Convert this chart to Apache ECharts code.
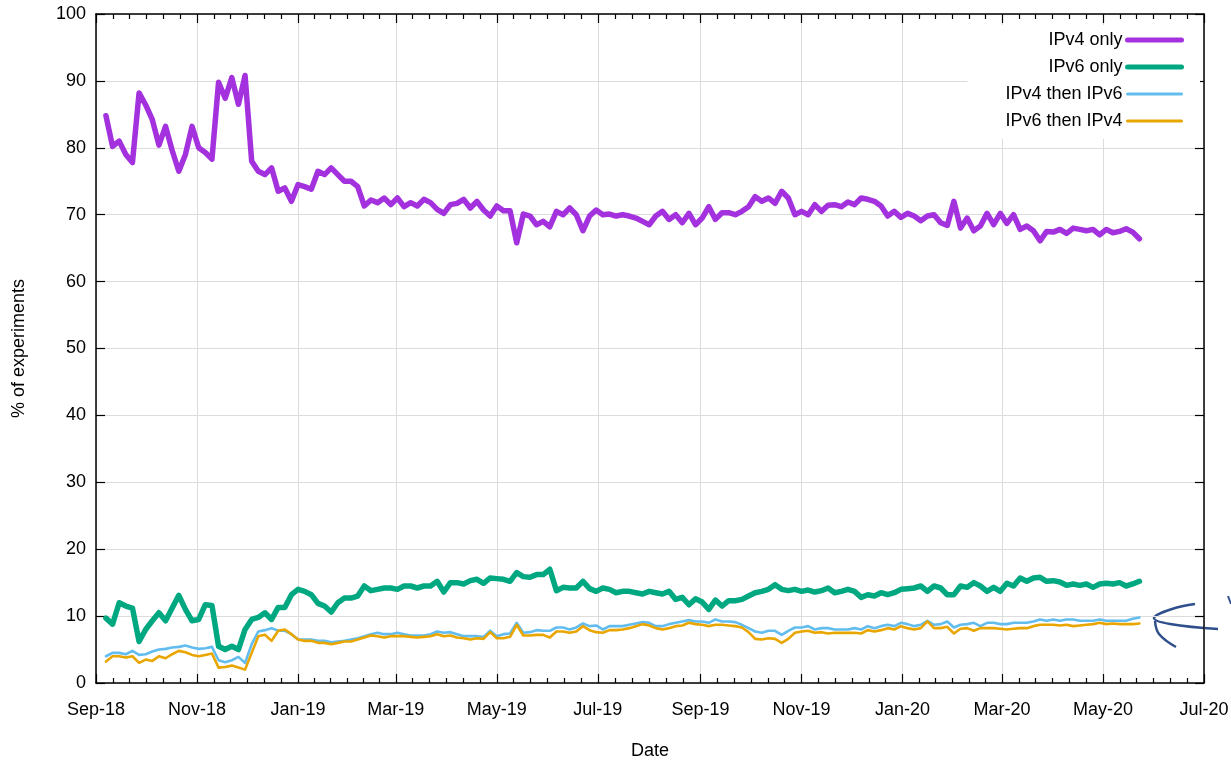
<!DOCTYPE html>
<html>
<head>
<meta charset="utf-8">
<script src="https://cdn.jsdelivr.net/npm/echarts@6/dist/echarts.min.js"></script>
<style>
  html, body { margin: 0; padding: 0; background: #fff; }
  #chart { width: 1231px; height: 760px; }
</style>
</head>
<body>
<div id="chart"></div>
<script>
// daily experiment shares, sampled every 4 days from 2018-09-07
const firstDate = '2018-09-07'
const stepDays = 4

const ipv4Only = [
  84.8, 80.2, 81, 79, 77.8, 88.2, 86.4, 84.2, 80.4, 83.2,
  79.6, 76.5, 79, 83.2, 80, 79.3, 78.3, 89.8, 87.4, 90.5,
  86.5, 90.8, 78, 76.5, 76, 77, 73.5, 74, 72, 74.5,
  74.2, 73.8, 76.5, 76, 77, 76, 75, 75, 74.2, 71.3,
  72.2, 71.8, 72.5, 71.5, 72.5, 71.2, 71.8, 71.3, 72.3, 71.8,
  70.8, 70.2, 71.5, 71.7, 72.3, 71, 72, 70.7, 69.8, 71.3,
  70.6, 70.6, 65.8, 70.1, 69.8, 68.5, 69, 68.2, 70.5, 70,
  71, 70, 67.6, 69.8, 70.7, 70, 70.1, 69.8, 70, 69.8,
  69.5, 69, 68.5, 69.8, 70.5, 69.3, 70, 68.8, 70.2, 68.5,
  69.5, 71.2, 69.3, 70.3, 70.3, 70, 70.5, 71.2, 72.7, 72,
  72.5, 71.7, 73.5, 72.5, 70, 70.5, 70, 71.5, 70.5, 71.4,
  71.5, 71.2, 71.9, 71.5, 72.5, 72.3, 72, 71.3, 69.8, 70.5,
  69.6, 70.2, 69.8, 69.1, 69.8, 70, 68.8, 68.4, 72, 68,
  69.5, 67.6, 68.3, 70.2, 68.5, 70.2, 68.7, 70, 67.8, 68.3,
  67.6, 66.1, 67.5, 67.4, 67.8, 67.2, 68, 67.8, 67.6, 67.8,
  67, 67.8, 67.3, 67.5, 67.9, 67.4, 66.4
]

const ipv6Only = [
  9.7, 8.8, 12, 11.5, 11.2, 6.2, 8, 9.3, 10.5, 9.3,
  11.2, 13.1, 11, 9.3, 9.5, 11.7, 11.6, 5.5, 5, 5.5,
  5, 8, 9.5, 9.8, 10.5, 9.5, 11.3, 11.3, 13.2, 14,
  13.7, 13.2, 11.9, 11.5, 10.6, 12, 12.7, 12.7, 13, 14.5,
  13.8, 14, 14.2, 14.2, 14, 14.5, 14.5, 14.2, 14.5, 14.5,
  15.2, 13.6, 15, 15, 14.8, 15.3, 15.5, 14.9, 15.7, 15.6,
  15.5, 15.2, 16.5, 15.9, 15.8, 16.2, 16.2, 17, 13.8, 14.3,
  14.2, 14.2, 15.2, 14.1, 13.7, 14.2, 14, 13.5, 13.7, 13.7,
  13.5, 13.3, 13.7, 13.5, 13.3, 13.7, 12.5, 12.8, 11.7, 12.6,
  12.1, 11, 12.4, 11.5, 12.3, 12.3, 12.5, 13, 13.5, 13.7,
  14, 14.7, 14, 13.8, 14, 13.7, 13.9, 13.6, 13.8, 14.2,
  13.5, 13.7, 14, 13.7, 12.8, 13.2, 13, 13.5, 13.2, 13.5,
  14, 14.1, 14.2, 14.5, 13.7, 14.5, 14.2, 13.2, 13.2, 14.5,
  14.3, 15, 14.5, 13.7, 14.3, 13.7, 14.9, 14.5, 15.7, 15.2,
  15.7, 15.8, 15.2, 15.3, 15.1, 14.6, 14.8, 14.6, 14.8, 14.3,
  14.8, 14.9, 14.8, 15, 14.5, 14.8, 15.2
]

const ipv4ThenIpv6 = [
  4, 4.5, 4.5, 4.3, 4.8, 4.2, 4.3, 4.7, 5, 5.1,
  5.3, 5.4, 5.6, 5.3, 5.1, 5.2, 5.4, 3.4, 3.1, 3.4,
  3.9, 3, 5.8, 7.7, 7.9, 8.2, 7.8, 7.8, 7.3, 6.5,
  6.5, 6.5, 6.3, 6.3, 6.1, 6.2, 6.3, 6.5, 6.7, 7,
  7.3, 7.5, 7.3, 7.3, 7.5, 7.3, 7.1, 7.1, 7.1, 7.3,
  7.7, 7.5, 7.6, 7.3, 7, 7, 7, 6.9, 7.8, 7,
  7.3, 7.4, 9, 7.5, 7.6, 7.9, 7.8, 7.8, 8.3, 8.3,
  8, 8.3, 8.9, 8.5, 8.6, 8, 8.5, 8.5, 8.5, 8.7,
  8.9, 9.1, 9, 8.5, 8.5, 8.8, 9, 9.2, 9.4, 9.2,
  9.2, 9, 9.5, 9.2, 9.2, 9.1, 8.7, 8.2, 7.7, 7.5,
  7.8, 7.8, 7.2, 7.8, 8.3, 8.3, 8.5, 8, 8.2, 8.2,
  8, 8, 8, 8.2, 8, 8.5, 8.2, 8.5, 8.7, 8.5,
  9, 8.8, 8.5, 8.7, 9.3, 8.7, 8.8, 9.2, 8.3, 8.7,
  8.8, 9, 8.5, 9, 9, 8.8, 8.8, 9, 9, 9,
  9.2, 9.5, 9.3, 9.5, 9.3, 9.5, 9.5, 9.3, 9.3, 9.3,
  9.5, 9.3, 9.3, 9.3, 9.3, 9.6, 9.8
]

const ipv6ThenIpv4 = [
  3.2, 4, 4, 3.8, 4, 3, 3.5, 3.3, 4, 3.7,
  4.3, 4.8, 4.6, 4.2, 4, 4.2, 4.4, 2.3, 2.4, 2.6,
  2.3, 2, 4.5, 7, 7.2, 6.3, 7.8, 8, 7.3, 6.5,
  6.3, 6.3, 6, 6, 5.8, 6, 6.2, 6.2, 6.5, 6.8,
  7.1, 7, 6.8, 7, 7, 7, 6.9, 6.8, 6.9, 7,
  7.3, 7, 7.1, 6.8, 6.7, 6.5, 6.7, 6.6, 7.6, 6.7,
  6.7, 6.9, 8.7, 7.1, 7.1, 7.2, 7.2, 6.8, 7.7, 7.7,
  7.5, 7.7, 8.5, 7.9, 7.6, 7.5, 7.9, 7.9, 8, 8.2,
  8.5, 8.8, 8.6, 8.2, 8, 8.2, 8.5, 8.6, 9, 8.8,
  8.7, 8.5, 8.7, 8.7, 8.6, 8.5, 8.3, 7.6, 6.6, 6.5,
  6.7, 6.6, 6, 6.6, 7.5, 7.7, 7.8, 7.5, 7.6, 7.4,
  7.5, 7.5, 7.5, 7.5, 7.4, 7.9, 7.7, 7.9, 8.2, 8,
  8.5, 8.2, 8, 8.2, 9.2, 8.2, 8.2, 8.4, 7.4, 8.1,
  8.2, 7.8, 8.2, 8.2, 8.2, 8.1, 8, 8.1, 8.2, 8.2,
  8.5, 8.7, 8.7, 8.7, 8.6, 8.7, 8.5, 8.6, 8.7, 8.8,
  9, 8.8, 8.9, 8.8, 8.8, 8.8, 8.9
]

const seriesNames = ['IPv4 only', 'IPv6 only', 'IPv4 then IPv6', 'IPv6 then IPv4']
const seriesColors = ['#a332de', '#00a881', '#62bdee', '#eaa600']

const xTickDates = ['2018-09-01', '2018-11-01', '2019-01-01', '2019-03-01', '2019-05-01', '2019-07-01',
  '2019-09-01', '2019-11-01', '2020-01-01', '2020-03-01', '2020-05-01', '2020-07-01']
const xTickLabels = ['Sep-18', 'Nov-18', 'Jan-19', 'Mar-19', 'May-19', 'Jul-19',
  'Sep-19', 'Nov-19', 'Jan-20', 'Mar-20', 'May-20', 'Jul-20']
const yTicks = [0, 10, 20, 30, 40, 50, 60, 70, 80, 90, 100]

function toTime(s, addDays) {
  const p = s.split('-').map(Number)
  return new Date(p[0], p[1] - 1, p[2] + (addDays || 0)).getTime()
}

const xMajor = xTickDates.map(s => toTime(s))
const xMinor = []
for (let i = 0; i < xMajor.length - 1; i++) {
  for (let k = 1; k < 6; k++) xMinor.push(xMajor[i] + (xMajor[i + 1] - xMajor[i]) * k / 6)
}

function pairs(values) {
  return values.map((v, i) => [toTime(firstDate, i * stepDays), v])
}

const font = 'Liberation Sans, Arial, Helvetica, sans-serif'
const xMin = xMajor[0]
const xMax = xMajor[xMajor.length - 1]

function tickAxis(pos, values, len, main) {
  return {
    type: 'value',
    position: pos,
    min: xMin,
    max: xMax,
    axisLine: { show: main, onZero: false, lineStyle: { color: '#000', width: 1.5 } },
    axisTick: { show: true, inside: true, length: len, customValues: values, lineStyle: { color: '#000', width: 1.2 } },
    axisLabel: {
      show: main && pos === 'bottom',
      customValues: values,
      margin: 18,
      color: '#000',
      fontSize: 18,
      fontFamily: font,
      formatter: function (v) {
        const k = xMajor.findIndex(t => Math.abs(t - v) < 3600000)
        return k >= 0 ? xTickLabels[k] : ''
      }
    },
    splitLine: { show: main && pos === 'bottom', lineStyle: { color: '#dcdcdc', width: 1 } }
  }
}

const xAxes = [
  tickAxis('bottom', xMajor, 9, true),
  tickAxis('bottom', xMinor, 5, false),
  tickAxis('top', xMajor, 9, true),
  tickAxis('top', xMinor, 5, false)
]
xAxes[0].name = 'Date'
xAxes[0].nameLocation = 'middle'
xAxes[0].nameGap = 59
xAxes[0].nameTextStyle = { color: '#000', fontSize: 18, fontFamily: font }

function yAxisDef(pos, main) {
  return {
    type: 'value',
    position: pos,
    min: yTicks[0],
    max: yTicks[yTicks.length - 1],
    interval: 10,
    axisLine: { show: true, onZero: false, lineStyle: { color: '#000', width: 1.5 } },
    axisTick: { show: true, inside: true, length: 9, lineStyle: { color: '#000', width: 1.2 } },
    axisLabel: { show: main, margin: 10, color: '#000', fontSize: 18, fontFamily: font },
    splitLine: { show: main, lineStyle: { color: '#dcdcdc', width: 1 } }
  }
}

const yAxes = [yAxisDef('left', true), yAxisDef('right', false)]
yAxes[0].name = '% of experiments'
yAxes[0].nameLocation = 'middle'
yAxes[0].nameGap = 68
yAxes[0].nameTextStyle = { color: '#000', fontSize: 18, fontFamily: font }

const seriesData = [ipv4Only, ipv6Only, ipv4ThenIpv6, ipv6ThenIpv4]
const widths = [5.5, 5.5, 2.6, 2.6]

const chart = echarts.init(document.getElementById('chart'), null, { renderer: 'canvas' })
chart.setOption({
  animation: false,
  backgroundColor: '#fff',
  grid: { left: 96, right: 27, top: 14, bottom: 77, outerBoundsMode: 'none' },
  legend: {
    data: seriesNames.map((n, i) => ({
      name: n,
      itemStyle: { opacity: 0 },
      lineStyle: { color: seriesColors[i], width: widths[i] > 3 ? 5 : 3 }
    })),
    orient: 'vertical',
    align: 'right',
    right: 31,
    top: 25,
    padding: [6, 16, 9, 38],
    itemWidth: 54,
    itemHeight: 14,
    itemGap: 9,
    backgroundColor: '#fff',
    textStyle: { color: '#000', fontSize: 18, fontFamily: font }
  },
  xAxis: xAxes,
  yAxis: yAxes,
  series: seriesData.map((vals, i) => ({
    name: seriesNames[i],
    type: 'line',
    xAxisIndex: 0,
    yAxisIndex: 0,
    symbol: 'none',
    data: pairs(vals),
    color: seriesColors[i],
    lineStyle: { color: seriesColors[i], width: widths[i], join: 'round', cap: 'round' }
  })),
  graphic: [
    {
      type: 'polyline',
      shape: { points: [[1195, 604], [1172, 609], [1154, 618], [1170, 624], [1218, 629]], smooth: 0.4 },
      style: { stroke: '#2f4f8c', lineWidth: 2.5, fill: null }
    },
    {
      type: 'polyline',
      shape: { points: [[1155, 621], [1159, 634], [1176, 647]], smooth: 0.4 },
      style: { stroke: '#2f4f8c', lineWidth: 2.5, fill: null }
    },
    {
      type: 'polyline',
      shape: { points: [[1228, 596], [1231, 604]] },
      style: { stroke: '#2f4f8c', lineWidth: 2, fill: null }
    }
  ]
})
</script>
</body>
</html>
